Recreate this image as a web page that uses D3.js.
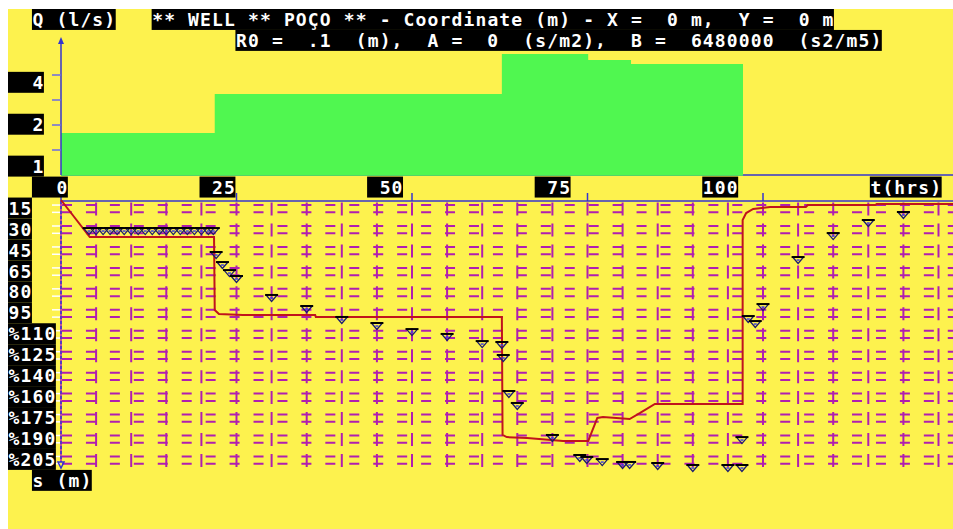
<!DOCTYPE html>
<html><head><meta charset="utf-8">
<script src="https://cdn.jsdelivr.net/npm/d3@7"></script>
<style>html,body{margin:0;padding:0;background:#fff;overflow:hidden} svg{display:block}</style>
</head><body>
<svg id="c" width="953" height="529"></svg>
<script>
// ---------- data ----------
const titleLine1 = "** WELL ** POÇO ** - Coordinate (m) - X =  0 m,  Y =  0 m";
const titleLine2 = "R0 =  .1  (m),  A =  0  (s/m2),  B =  6480000  (s2/m5)";
const qAxisTitle = "Q (l/s)";
const tAxisTitle = "t(hrs)";
const sAxisTitle = "s (m)";
const qLabels = ["4", "2", "1"];
const qTicks = [1, 2, 3, 4];
const tTicks = [0, 25, 50, 75, 100];
const sLabels = ["15","30","45","65","80","95","%110","%125","%140","%160","%175","%190","%205"];

// pumping steps (hours, l/s)
const pumpTimes = [0, 21.9, 62.8, 75.1, 81.2, 97.15];
const pumpRates = [1.68, 3.24, 4.84, 4.6, 4.44, 0];

// observed drawdown (hours, m)
const obsTimes = [4,5,6,7,8,9,10,11,12,13,14,15,16,17,18,19,20,21,21.7,
  22.1,23,24,25,30,35,40,45,50,55,60,62.8,63,63.8,65,70,73.9,74.9,77.1,80,81,85,90,95,97,97,97.9,98.9,100,105,110,115,120];
const obsDrawdown = [21.3,21.3,21.3,21.3,21.3,21.3,21.3,21.3,21.3,21.3,21.3,21.3,21.3,21.3,21.3,21.3,21.3,21.3,21.3,
  39.5,47.1,53.2,57.7,72.1,80.5,88.8,93.4,98.0,101.7,107.1,107.8,117.7,145.0,154.1,178.4,193.6,195.1,196.7,198.9,198.9,199.7,201.2,201.2,201.2,180.0,88.1,91.9,79.0,43.3,25.1,15.2,9.1];

// model drawdown curve (hours, m)
const modelTimes = [0,4.1,21.8,21.9,22.5,25.9,36.2,36.3,62.8,62.9,63.5,66.4,71.5,75.1,75.6,76.4,77.2,81.0,82.5,84.6,97.1,97.1,97.6,98.6,101.0,106.1,106.4,116.0,116.2,127.1];
const modelDrawdown = [0,28.1,28.1,83.5,86.6,87.3,87.3,88.8,88.8,178.4,180.0,180.7,183.0,183.0,176.2,165.5,164.8,166.3,161.7,154.9,154.9,15.2,9.9,6.8,5.3,5.3,3.8,3.8,3.0,3.0];

// ---------- layout ----------
const W = 953, H = 529;
const CW = 11.97, RH = 20.95, X0 = 8, Y0 = 9;
const col = c => X0 + CW * c, row = r => Y0 + RH * r;
const YELLOW = "#fdf24e", GREEN = "#50f750", MAG = "#b01eb0", BLUE = "#3434d0", RED = "#c0141c";

const svg = d3.select("#c");
svg.append("rect").attr("width", W).attr("height", H).attr("fill", "#fff");
svg.append("rect").attr("x", X0).attr("y", Y0).attr("width", W - X0).attr("height", H - Y0).attr("fill", YELLOW);

const x = d3.scaleLinear().domain([0, 100]).range([61, 763]);
const yQ = d3.scaleLinear().domain([0, 4]).range([175, 75]);
const yS = d3.scaleLinear().domain([0, 205]).range([200, 470]);
const xl = d3.scaleLinear().domain([0, 100]).range([col(2), col(58)]);

// ---------- Q panel ----------
svg.append("line").attr("x1", x(0)).attr("x2", W).attr("y1", yQ(0)).attr("y2", yQ(0))
  .attr("stroke", BLUE).attr("stroke-width", 1.5);
const pump = pumpTimes.map((t, i) => ({t, q: pumpRates[i]}));
svg.append("path").datum(pump)
  .attr("d", d3.area().curve(d3.curveStepAfter).x(d => x(d.t)).y0(yQ(0) + 0.7).y1(d => yQ(d.q)))
  .attr("fill", GREEN);
svg.append("line").attr("x1", x(0)).attr("x2", x(0)).attr("y1", 42).attr("y2", yQ(0))
  .attr("stroke", BLUE).attr("stroke-width", 1.5);
svg.append("path").attr("d", `M${x(0)},37 L${x(0)-3},44 L${x(0)+3},44 Z`).attr("fill", BLUE);
svg.selectAll(".qt").data(qTicks).enter().append("line")
  .attr("x1", 52).attr("x2", x(0)).attr("y1", d => yQ(d)).attr("y2", d => yQ(d))
  .attr("stroke", "#6a6ae6").attr("stroke-width", 1.5);

// ---------- drawdown grid ----------
const gridG = svg.append("g");
const hLines = [];
for (let r = 9; r <= 21; r++) { hLines.push(row(r) + 7.5); hLines.push(row(r) + 14.8); }
gridG.selectAll(".h").data(hLines).enter().append("line")
  .attr("x1", 62).attr("x2", W).attr("y1", d => d).attr("y2", d => d)
  .attr("stroke", MAG).attr("stroke-width", 2).attr("stroke-dasharray", "10,13.94");
gridG.selectAll(".wt").data(hLines).enter().append("line")
  .attr("x1", 52).attr("x2", 60).attr("y1", d => d).attr("y2", d => d)
  .attr("stroke", "#fff").attr("stroke-width", 1.5);
const vT = d3.range(5, 130, 5).filter(t => x(t) < W);
gridG.selectAll(".v").data(vT).enter().append("line")
  .attr("x1", d => x(d)).attr("x2", d => x(d)).attr("y1", row(9) + 5).attr("y2", 467)
  .attr("stroke", MAG).attr("stroke-width", 2).attr("stroke-dasharray", "13,7.95");

// axes of drawdown panel
svg.append("line").attr("x1", x(0)).attr("x2", W).attr("y1", 201).attr("y2", 201)
  .attr("stroke", BLUE).attr("stroke-width", 1.5);
svg.selectAll(".tt").data(tTicks).enter().append("line")
  .attr("x1", d => x(d)).attr("x2", d => x(d)).attr("y1", 193).attr("y2", 201)
  .attr("stroke", BLUE).attr("stroke-width", 1.5);
svg.append("line").attr("x1", x(0)).attr("x2", x(0)).attr("y1", 201).attr("y2", 462)
  .attr("stroke", MAG).attr("stroke-width", 1.5);
svg.append("line").attr("x1", x(0)).attr("x2", x(0)).attr("y1", 201).attr("y2", 462)
  .attr("stroke", BLUE).attr("stroke-width", 1.5).attr("stroke-dasharray", "3,2");
svg.append("path").attr("d", `M${x(0)-3},462 L${x(0)+3},462 L${x(0)},468 Z`)
  .attr("fill", "none").attr("stroke", BLUE).attr("stroke-width", 1.5);

// model curve
const model = modelTimes.map((t, i) => ({t, s: modelDrawdown[i]}));
svg.append("path").datum(model)
  .attr("d", d3.line().x(d => x(d.t)).y(d => yS(d.s)))
  .attr("fill", "none").attr("stroke", RED).attr("stroke-width", 2);

// observed markers
const obs = obsTimes.map((t, i) => ({t, s: obsDrawdown[i]}));
const mk = svg.selectAll(".m").data(obs).enter().append("g")
  .attr("transform", d => `translate(${x(d.t)},${yS(d.s)})`);
mk.append("path").attr("d", "M-5.5,0 L0,6.5 L5.5,0")
  .attr("fill", "none").attr("stroke", "#1c1c70").attr("stroke-width", 1.3);
mk.append("line").attr("x1", -1.5).attr("x2", 1.5).attr("y1", 3).attr("y2", 3)
  .attr("stroke", "#4040e0").attr("stroke-width", 1.5);
mk.append("line").attr("x1", -6.5).attr("x2", 6.5).attr("y1", 0).attr("y2", 0)
  .attr("stroke", "#000").attr("stroke-width", 2);

// ---------- text boxes ----------
const FS = 18, LS = CW - 0.602 * FS;
function label(c, r, str, xpx) {
  const x0 = xpx !== undefined ? xpx : col(c);
  svg.append("rect").attr("x", x0).attr("y", row(r)).attr("width", str.length * CW).attr("height", RH)
    .attr("fill", "#000");
  svg.append("text").attr("x", x0 + LS / 2).attr("y", row(r) + 17.1)
    .attr("xml:space", "preserve").style("white-space", "pre")
    .attr("font-family", "'DejaVu Sans Mono', monospace").attr("font-weight", "bold")
    .attr("font-size", FS).attr("letter-spacing", LS).attr("fill", "#fff").text(str);
}
label(2, 0, qAxisTitle);
label(12, 0, titleLine1);
label(19, 1, titleLine2);
qLabels.forEach((q, i) => label(0, 3 + 2 * i, q.padStart(3, " ")));
tTicks.forEach(t => label(0, 8, String(t).padStart(3, " "), xl(t)));
label(72, 8, tAxisTitle);
sLabels.forEach((s, i) => label(0, 9 + i, s));
label(2, 22, sAxisTitle);
</script>
</body></html>
